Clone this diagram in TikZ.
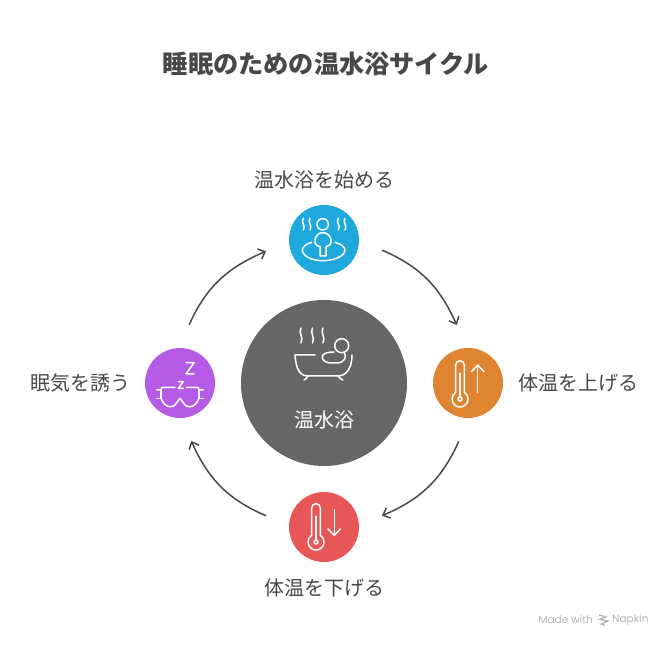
\documentclass[tikz,border=0pt]{standalone}
\usepackage{fontspec}
\setmainfont{Noto Sans CJK JP}
\newfontfamily\napkinfont{Poppins}
\usetikzlibrary{arrows.meta}
\definecolor{inktext}{HTML}{484848}
\definecolor{hubgray}{HTML}{666666}
\definecolor{stepblue}{HTML}{1EA8DB}
\definecolor{steporange}{HTML}{DF8430}
\definecolor{stepred}{HTML}{E75757}
\definecolor{steppurple}{HTML}{B55BE6}
\definecolor{marktext}{HTML}{B4B4B4}
\tikzset{
  stepdot/.style={circle, minimum size=70pt, inner sep=0pt, outer sep=24pt},
  steplabel/.style={text=inktext, font=\fontsize{20}{24}\selectfont, inner sep=0pt},
  looparrow/.style={draw=inktext, line width=1.5pt, -{Straight Barb[length=6pt,width=11pt,line width=1.5pt]}},
  iconline/.style={draw=white, line width=1.5pt, line cap=round, line join=round}
}
\newcommand{\thermo}{%
  \draw[iconline] (-4.3,6.7) -- (-4.3,34) arc[start angle=180,end angle=0,radius=4.3] -- (4.3,6.7)
    arc[start angle=57.5,end angle=-237.5,radius=8];
  \draw[iconline] (0,2) -- (0,25.7);
  \draw[iconline] (0,0) circle[radius=2];
}
\begin{document}
\begin{tikzpicture}[x=1pt,y=1pt]
  \useasboundingbox (0,0) rectangle (672,648);
  \node[text=inktext, font=\bfseries\fontsize{25.2}{30}\selectfont, inner sep=0pt] (title) at (326,584) {睡眠のための温水浴サイクル};

  \node[circle, fill=hubgray, minimum size=166pt, inner sep=0pt] (hub) at (324,265) {};
  \node[stepdot, fill=stepblue] (bath) at (324,408) {};
  \node[stepdot, fill=steporange] (rise) at (468,265) {};
  \node[stepdot, fill=stepred] (fall) at (324,121) {};
  \node[stepdot, fill=steppurple] (sleep) at (180,265) {};

  \node[steplabel] (bathlabel) at (324,468.5) {温水浴を始める};
  \node[steplabel] (riselabel) at (578,265) {体温を上げる};
  \node[steplabel] (falllabel) at (324,60.5) {体温を下げる};
  \node[steplabel] (sleeplabel) at (80,265) {眠気を誘う};
  \node[text=white, font=\fontsize{20}{24}\selectfont, inner sep=0pt] (hublabel) at (324,228) {温水浴};

  \draw[looparrow] (bath.-10) to[out=-23, in=114] (rise.101);
  \draw[looparrow] (rise.-99) to[out=-114, in=23] (fall.11);
  \draw[looparrow] (fall.169) to[out=157, in=-66] (sleep.-79);
  \draw[looparrow] (sleep.81) to[out=66, in=-157] (bath.191);

  % hub icon
  \begin{scope}[shift={(324,265)}]
    \foreach \sx in {-23,-11.5,-1}
      \draw[iconline] (\sx,55) .. controls (\sx-3,50) and (\sx+3,46) .. (\sx,40);
    \draw[iconline] (-9,28) -- (-29,28) .. controls (-28,15) and (-25,7) .. (-16,7)
      -- (14,7) .. controls (23,7) and (28,16) .. (28,28);
    \draw[iconline] (-16,7) .. controls (-17,5) and (-18,4) .. (-20,3);
    \draw[iconline] (14,7) .. controls (15,5) and (17,4) .. (19,3);
    \draw[iconline] (17.7,37.3) circle[radius=7];
    \draw[iconline] (10,31) .. controls (5,31) and (0,30) .. (-1,28)
      .. controls (-3,25) and (-1,21) .. (6,20) -- (14,20)
      .. controls (19,20) and (24,26) .. (20,31);
  \end{scope}

  % bath icon
  \begin{scope}[shift={(324,408)}]
    \draw[iconline] (-1.3,15.7) circle[radius=5.7];
    \draw[iconline] (-4,-16) -- (-4,-6.5) -- (-7,-5.5) .. controls (-9,-5) and (-9.5,-2) .. (-9,0)
      .. controls (-8,5) and (-5,7.3) .. (-1.3,7.3) .. controls (3,7.3) and (6,5) .. (7,0)
      .. controls (7.5,-2) and (7,-5) .. (5,-5.5) -- (2,-6.5) -- (2,-16) -- cycle;
    \draw[iconline] (-12.3,-2.3) .. controls (-18,-4) and (-21.7,-7) .. (-21.7,-10)
      .. controls (-21.7,-16) and (-12,-20.7) .. (-1.3,-20.7)
      .. controls (10,-20.7) and (21,-16) .. (21,-10) .. controls (21,-7) and (17,-4) .. (11,-2.3);
    \foreach \sx in {-20.7,-14,14.3,21}
      \draw[iconline] (\sx,21.7) .. controls (\sx-3,18) and (\sx+3,14) .. (\sx,10);
  \end{scope}

  % rise icon
  \begin{scope}[shift={(460,249)}]
    \thermo
    \draw[iconline] (17.7,6.7) -- (17.7,34);
    \draw[iconline] (11.4,27.3) -- (17.7,34) -- (24,27.3);
  \end{scope}

  % fall icon
  \begin{scope}[shift={(316,106)}]
    \thermo
    \draw[iconline] (18.3,32.3) -- (18.3,6.6);
    \draw[iconline] (12,13) -- (18.3,6.6) -- (24.3,13);
  \end{scope}

  % sleep icon
  \begin{scope}[shift={(180,265)}]
    \draw[iconline] (-5,-4.3) -- (-17,-4.3) .. controls (-18.5,-4.3) and (-19,-5.5) .. (-19,-7) -- (-23.3,-7);
    \draw[iconline] (-19,-7) -- (-19,-15.3) -- (-23.3,-15.3);
    \draw[iconline] (6.7,-4.3) -- (17,-4.3) .. controls (18.5,-4.3) and (19,-5.5) .. (19,-7) -- (23.3,-7);
    \draw[iconline] (19,-7) -- (19,-15.3) -- (23.3,-15.3);
    \draw[iconline] (-19,-15.3) .. controls (-17,-20) and (-14,-23.7) .. (-10,-23.7)
      .. controls (-8,-23.7) and (-6,-23) .. (-5,-22) -- (0,-15.3) -- (5,-22)
      .. controls (6,-23) and (8,-23.7) .. (10,-23.7) .. controls (14,-23.7) and (17,-20) .. (19,-15.3);
    \draw[iconline] (-1.7,1.3) -- (3.3,1.3) -- (-1.7,-5.3) -- (3.3,-5.3);
    \draw[iconline] (6,20.3) -- (14,20.3) -- (6,9) -- (14,9);
  \end{scope}

  % footer
  \node[text=marktext, font=\napkinfont\fontsize{10.5}{12}\selectfont, inner sep=0pt, anchor=east] (madewith) at (593,28) {Made with};
  \node[text=marktext, font=\napkinfont\fontsize{10.5}{12}\selectfont, inner sep=0pt, anchor=west] (napkin) at (612,28) {Napkin};
  \draw[marktext, line width=1.3pt] (599,33) -- (606,31) -- (600,28.5) -- (608,27) -- (601,24) -- (605,22.5);
\end{tikzpicture}
\end{document}
